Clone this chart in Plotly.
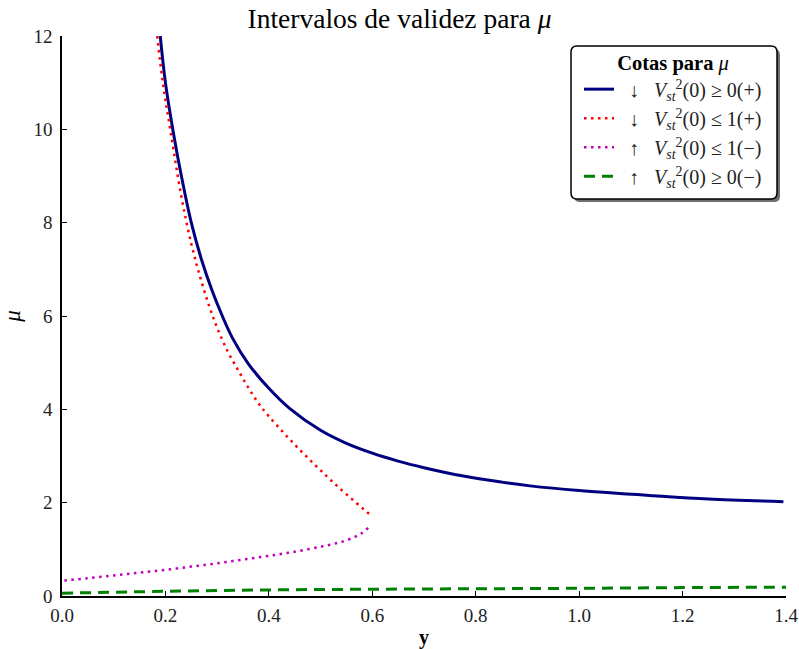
import plotly.graph_objects as go

# Upper bound for mu, decreasing branch: V_st^2(0) >= 0 (+)
y_pos0 = [0.190, 0.200, 0.215, 0.230, 0.250, 0.270, 0.290, 0.310, 0.330, 0.360, 0.400,
          0.440, 0.500, 0.550, 0.600, 0.650, 0.700, 0.776, 0.850, 0.905, 1.000,
          1.144, 1.250, 1.395]
mu_pos0 = [12.0, 11.0, 9.95, 9.05, 8.0, 7.2, 6.55, 6.0, 5.52, 4.98, 4.45,
           4.02, 3.55, 3.27, 3.06, 2.89, 2.75, 2.57, 2.44, 2.36, 2.26,
           2.15, 2.08, 2.02]

# V_st^2(0) <= 1 (+)
y_pos1 = [0.184, 0.195, 0.210, 0.231, 0.250, 0.267, 0.285, 0.300, 0.320, 0.340, 0.360,
          0.380, 0.400, 0.430, 0.460, 0.490, 0.520, 0.554, 0.596]
mu_pos1 = [12.0, 11.0, 9.95, 8.55, 7.55, 6.84, 6.2, 5.75, 5.25, 4.85, 4.47,
           4.13, 3.85, 3.48, 3.13, 2.8, 2.48, 2.14, 1.74]

# V_st^2(0) <= 1 (-)
y_neg1 = [0.592, 0.580, 0.567, 0.540, 0.502, 0.450, 0.400, 0.350, 0.300, 0.250,
          0.200, 0.150, 0.100, 0.050, 0.000]
mu_neg1 = [1.46, 1.35, 1.27, 1.16, 1.06, 0.95, 0.86, 0.78, 0.70, 0.63,
           0.56, 0.50, 0.44, 0.38, 0.33]

# V_st^2(0) >= 0 (-)
y_neg0 = [0.0, 0.2, 0.4, 0.6, 0.8, 1.0, 1.2, 1.4]
mu_neg0 = [0.06, 0.10, 0.13, 0.145, 0.155, 0.165, 0.18, 0.19]

x_ticks = [0.0, 0.2, 0.4, 0.6, 0.8, 1.0, 1.2, 1.4]
x_tick_text = ["0.0", "0.2", "0.4", "0.6", "0.8", "1.0", "1.2", "1.4"]
y_ticks = [0, 2, 4, 6, 8, 10, 12]

NB = "\u00a0"
V = "<i>V</i><sub><i>st</i></sub><sup>2</sup>(0)"
names = [
    f"{NB * 2}↓{NB * 3}{V} ≥ 0(+)",
    f"{NB * 2}↓{NB * 3}{V} ≤ 1(+)",
    f"{NB * 2}↑{NB * 3}{V} ≤ 1(−)",
    f"{NB * 2}↑{NB * 3}{V} ≥ 0(−)",
]

SERIF = "Liberation Serif, DejaVu Serif, serif"

fig = go.Figure()
fig.add_trace(go.Scatter(x=y_pos0, y=mu_pos0, mode="lines", name=names[0], legendgroup="a",
                         line=dict(color="#000080", width=3, shape="spline")))
fig.add_trace(go.Scatter(x=y_pos1, y=mu_pos1, mode="lines", name=names[1], legendgroup="b",
                         line=dict(color="#FF0000", width=2.5, dash="2.5px,4.5px", shape="spline")))
fig.add_trace(go.Scatter(x=y_neg1, y=mu_neg1, mode="lines", name=names[2], legendgroup="c",
                         line=dict(color="#BF00BF", width=2.5, dash="2.5px,4.5px", shape="spline")))
fig.add_trace(go.Scatter(x=y_neg0, y=mu_neg0, mode="lines", name=names[3], legendgroup="d",
                         line=dict(color="#008000", width=3, dash="11px,7px", shape="spline")))

W, H = 799, 649
L, R, T, B = 62, 13, 36, 53
pw, ph = W - L - R, H - T - B


def px(xp):
    return (xp - L) / pw


def py(yp):
    return (H - B - yp) / ph


def rounded_box(x0, y0, x1, y1, r):
    """SVG path (paper coords) for a rectangle with rounded corners, given in pixels."""
    pts = [
        ("M", x0 + r, y0), ("L", x1 - r, y0), ("Q", x1, y0, x1, y0 + r),
        ("L", x1, y1 - r), ("Q", x1, y1, x1 - r, y1), ("L", x0 + r, y1),
        ("Q", x0, y1, x0, y1 - r), ("L", x0, y0 + r), ("Q", x0, y0, x0 + r, y0),
    ]
    out = []
    for p in pts:
        cmd, coords = p[0], p[1:]
        pairs = [f"{px(coords[i]):.5f},{py(coords[i + 1]):.5f}" for i in range(0, len(coords), 2)]
        out.append(cmd + " ".join(pairs))
    return " ".join(out) + " Z"


# legend frame with drop shadow
bx0, by0, bx1, by1 = 571, 46, 777, 199
shapes = [
    dict(type="path", xref="paper", yref="paper", layer="above",
         path=rounded_box(bx0 + 3, by0 + 3, bx1 + 3, by1 + 3, 6),
         fillcolor="#6f6f6f", line=dict(width=0)),
    dict(type="path", xref="paper", yref="paper", layer="above",
         path=rounded_box(bx0, by0, bx1, by1, 6),
         fillcolor="white", line=dict(color="black", width=1.5)),
]

fig.update_layout(
    width=W, height=H,
    margin=dict(l=L, r=R, t=T, b=B, autoexpand=False),
    plot_bgcolor="white", paper_bgcolor="white",
    font=dict(family=SERIF, size=19, color="#222"),
    title=dict(text="Intervalos de validez para <i>μ</i>", x=0.5, xanchor="center",
               y=1 - 18 / H, yanchor="middle", font=dict(size=27.5, color="black")),
    xaxis=dict(range=[0, 1.4], tickvals=x_ticks, ticktext=x_tick_text, automargin=False,
               showgrid=False, zeroline=False, showline=True, linecolor="black", linewidth=1.5,
               ticks="inside", ticklen=5, tickcolor="black", ticklabelstandoff=1,
               title=dict(text="<b>y</b>", font=dict(size=20, color="black"), standoff=6)),
    yaxis=dict(range=[0, 12], tickvals=y_ticks, automargin=False,
               showgrid=False, zeroline=False, showline=True, linecolor="black", linewidth=1.5,
               ticks="inside", ticklen=5, tickcolor="black", ticklabelstandoff=4,
               title=dict(text="<i>μ</i>", font=dict(size=23, color="black"), standoff=8)),
    legend=dict(x=px(bx0 + 8), y=py(by0 - 3), xanchor="left", yanchor="top",
                bgcolor="rgba(0,0,0,0)", borderwidth=0,
                font=dict(family=SERIF, size=20, color="#222"),
                title=dict(text="<b>Cotas para</b> <i>μ</i>", side="top center",
                           font=dict(family=SERIF, size=20.5, color="black")),
                itemwidth=30, tracegroupgap=0),
    shapes=shapes,
    showlegend=True,
)

fig.write_html("out.html")
